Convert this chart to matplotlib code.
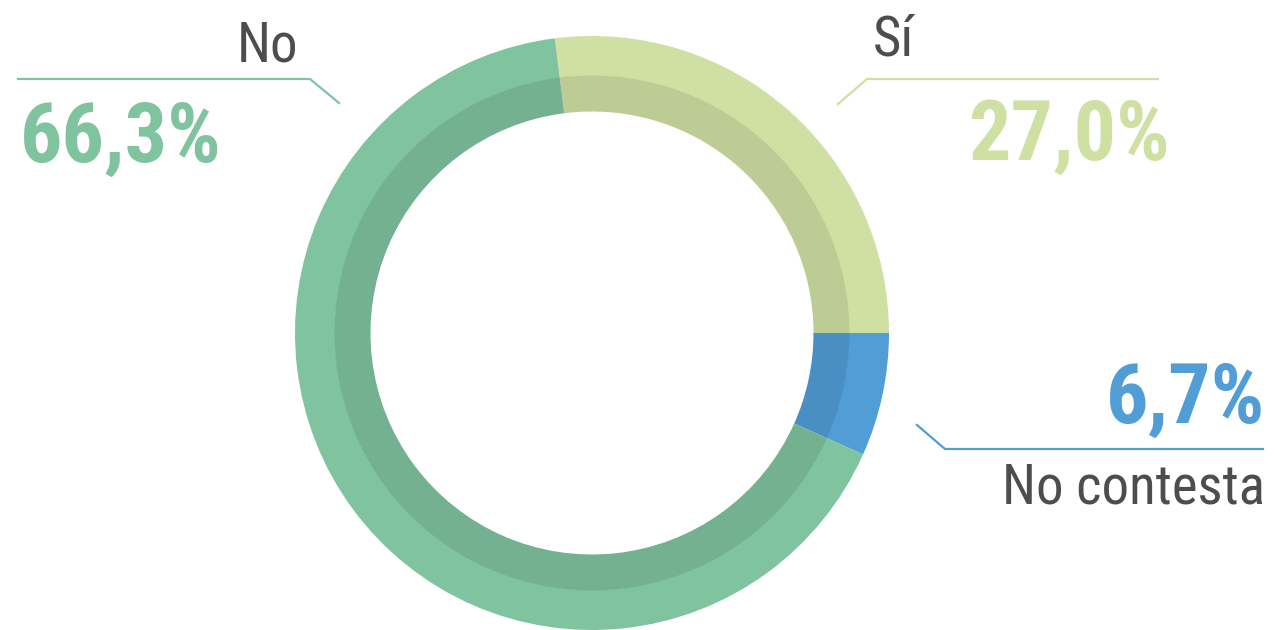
import matplotlib
matplotlib.use("Agg")
from matplotlib import pyplot as plt

# data
labels = ["Sí", "No contesta", "No"]
values = [27.0, 6.7, 66.3]
value_labels = ["27,0%", "6,7%", "66,3%"]
colors = ["#d0e0a3", "#519dd6", "#7fc39f"]

GRAY = "#4d4d4d"
FONT = ["Roboto Condensed", "Liberation Sans Narrow", "Roboto", "DejaVu Sans"]


def darker(hex_color, k=0.91):
    rgb = matplotlib.colors.to_rgb(hex_color)
    return tuple(c * k for c in rgb)


def main():
    fig = plt.figure(figsize=(12.75, 6.3), dpi=100)
    ax = fig.add_axes([0, 0, 1, 1])

    center = (592, 297)
    # "Sí" ends at 3 o'clock, running clockwise
    start = values[0] / sum(values) * 360
    # outer lighter ring
    ax.pie(values, colors=colors, radius=297, center=center, startangle=start,
           counterclock=False, frame=True,
           wedgeprops=dict(width=40, linewidth=0))
    # inner darker band
    ax.pie(values, colors=[darker(c) for c in colors], radius=257.5, center=center,
           startangle=start, counterclock=False, frame=True,
           wedgeprops=dict(width=36, linewidth=0))
    ax.set_xlim(0, 1275)
    ax.set_ylim(0, 630)
    ax.set_aspect("equal")
    ax.axis("off")

    label_size = 39.5
    value_size = 60.5

    # No
    ax.plot([18, 310, 339], [551, 551, 527], color=colors[2], lw=1.6)
    ax.text(298, 568, labels[2], ha="right", va="baseline", color=GRAY,
            fontsize=label_size, family=FONT)
    ax.text(20, 468, value_labels[2], ha="left", va="baseline", color=colors[2],
            fontsize=value_size, fontweight="bold", family=FONT)

    # Sí
    ax.plot([838, 867, 1158], [526, 551, 551], color=colors[0], lw=1.6)
    ax.text(873, 575, labels[0], ha="left", va="baseline", color=GRAY,
            fontsize=label_size, family=FONT)
    ax.text(1170, 470, value_labels[0], ha="right", va="baseline", color=colors[0],
            fontsize=value_size, fontweight="bold", family=FONT)

    # No contesta
    ax.plot([917, 945, 1263], [205, 181, 181], color=colors[1], lw=1.6)
    ax.text(1265, 207, value_labels[1], ha="right", va="baseline", color=colors[1],
            fontsize=value_size, fontweight="bold", family=FONT)
    ax.text(1265, 127, labels[1], ha="right", va="baseline", color=GRAY,
            fontsize=label_size, family=FONT)

    fig.savefig("out.png", dpi=100, facecolor="white")


if __name__ == "__main__":
    main()
